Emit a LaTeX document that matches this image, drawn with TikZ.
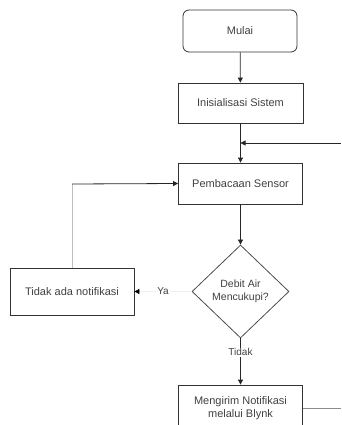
\documentclass[tikz,border=0pt]{standalone}
\usepackage{fontspec}
\setmainfont{Liberation Sans}
\usetikzlibrary{shapes.geometric,arrows.meta}
\begin{document}
\begin{tikzpicture}[x=1pt,y=-1pt,
  box/.style={draw=black!80,line width=0.8pt,rectangle,inner sep=2pt,align=center,font=\fontsize{11}{13}\selectfont,text=black!75},
  term/.style={box,rounded corners=6pt},
  dec/.style={draw=black!70,line width=0.8pt,diamond,aspect=1,inner sep=0pt,align=center,minimum width=97pt,minimum height=93pt,font=\fontsize{10.5}{13}\selectfont,text=black!75},
  arr/.style={line width=0.8pt,draw=black!85,-{Triangle[length=5pt,width=5pt]}},
  faintarr/.style={line width=0.8pt,draw=black!6,-{Triangle[length=5pt,width=5pt,color=black]}},
  lbl/.style={font=\fontsize{10}{12}\selectfont,text=black!75,fill=white,inner sep=1pt}]
\useasboundingbox (0,0) rectangle (341,425);
\clip (0,0) rectangle (341,425);
\node[term,minimum width=114pt,minimum height=42pt] (mulai) at (240,31) {Mulai};
\node[box,minimum width=125pt,minimum height=40pt] (init) at (240.5,103) {Inisialisasi Sistem};
\node[box,minimum width=124pt,minimum height=41pt] (baca) at (240.5,183.5) {Pembacaan Sensor};
\node[dec] (cek) at (240.5,291.5) {Debit Air\\Mencukupi?};
\node[box,minimum width=124pt,minimum height=47pt] (tidak) at (72,291.5) {Tidak ada notifikasi};
\node[box,minimum width=124pt,minimum height=46pt] (kirim) at (240.5,408) {Mengirim Notifikasi\\melalui Blynk};
\coordinate (rin) at (341,143);
\coordinate (rout) at (341,408);
\coordinate (loop) at (72,184);
\draw[arr] (mulai) -- (init);
\draw[arr] (init) -- (baca);
\draw[arr] (rin) -- (rin -| init.south);
\draw[arr] (baca) -- (cek);
\draw[faintarr] (cek.west) -- node[lbl,pos=0.5]{Ya} (tidak.east);
\draw[arr] (cek.south) -- node[lbl,pos=0.3]{Tidak} (kirim.north);
\draw[line width=0.8pt,draw=black!25] (tidak.north) -- (loop);
\draw[arr] (loop) -- (baca.west);
\draw[line width=0.8pt,draw=black!45] (kirim.east) -- (rout);
\end{tikzpicture}
\end{document}
